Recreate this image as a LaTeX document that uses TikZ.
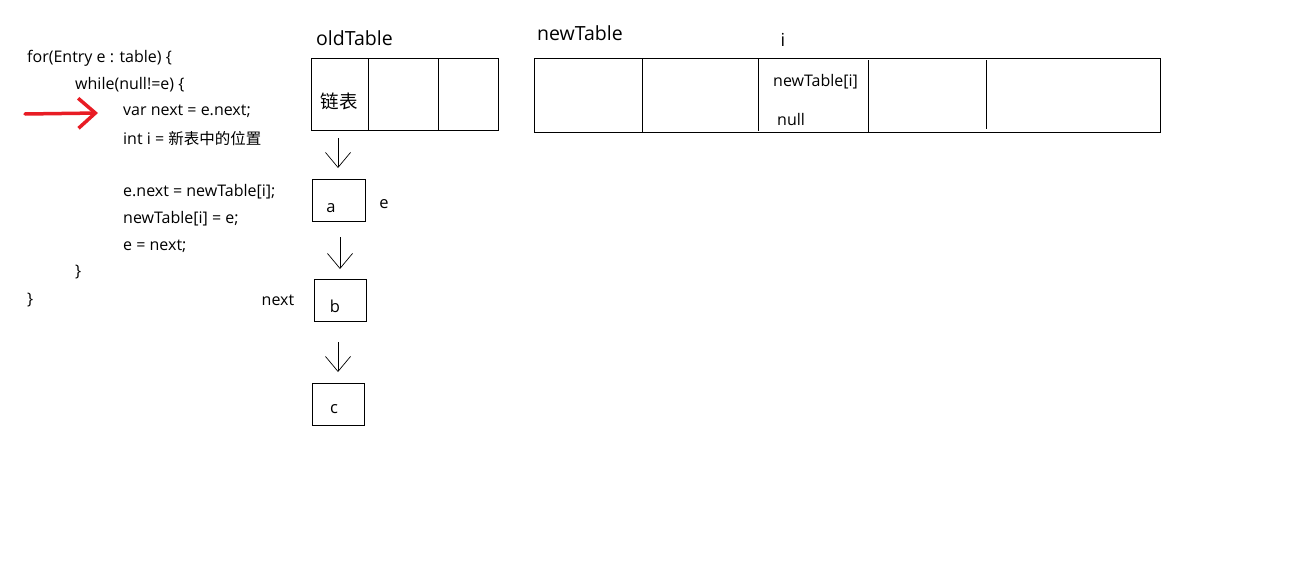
\documentclass[tikz,border=0pt]{standalone}
\usepackage{fontspec}
\setmainfont{Open Sans}
\newfontfamily\cjk{Noto Sans CJK SC}
\usetikzlibrary{arrows.meta}
\definecolor{penred}{RGB}{232,28,36}
\begin{document}
\begin{tikzpicture}[x=1pt,y=-1pt,
  code/.style={anchor=west,inner sep=0pt,font=\fontsize{16}{19}\selectfont},
  lbl/.style={anchor=west,inner sep=0pt,font=\fontsize{19.5}{23}\selectfont},
  small/.style={anchor=west,inner sep=0pt,font=\fontsize{16.5}{19}\selectfont},
  cell/.style={draw,line width=0.9pt,inner sep=0pt,anchor=north west},
  divider/.style={line width=0.9pt},
  link/.style={line width=0.7pt,-{Straight Barb[length=15pt,width=25pt,line width=0.7pt]}},
  redarrow/.style={line width=3.5pt,penred,line cap=round,-{Straight Barb[length=17pt,width=30pt,line width=3.5pt]}}
]
\useasboundingbox (0,0) rectangle (1294,560);
% code
\node[code] (l1) at (27,58) {for(Entry e : table) \{};
\node[code] (l2) at (75,85) {while(null!=e) \{};
\node[code] (l3) at (123,111) {var next = e.next;};
\node[code] (l4) at (123,139) {int i = {\cjk\fontsize{15.5}{19}\selectfont 新表中的位置}};
\node[code] (l5) at (123,192) {e.next = newTable[i];};
\node[code] (l6) at (123,219) {newTable[i] = e;};
\node[code] (l7) at (123,246) {e = next;};
\node[code] (l8) at (75,272) {\}};
\node[code] (l9) at (27,300) {\}};
% red arrow
\coordinate (rs) at (25,114);
\coordinate (re) at (98,113);
\draw[redarrow] (rs) -- (re);
% oldTable
\node[lbl] (oldlbl) at (316,38) {oldTable};
\node[cell,minimum width=187pt,minimum height=72pt] (old) at (311,58) {};
\draw[divider] (368,58) -- (368,130);
\draw[divider] (438,58) -- (438,131);
\node[inner sep=0pt,font=\cjk\fontsize{18.5}{22}\selectfont] (lianbiao) at (339,101) {链表};
% boxes
\node[cell,minimum width=53pt,minimum height=42pt] (a) at (312,179) {};
\node[small,anchor=center] (alab) at (331,208) {a};
\node[small,anchor=center] (elab) at (384,204) {e};
\node[cell,minimum width=52pt,minimum height=42pt] (b) at (314,279) {};
\node[small,anchor=center] (blab) at (335,306) {b};
\node[code,anchor=center] (nextlab) at (278,300) {next};
\node[cell,minimum width=52pt,minimum height=42pt] (c) at (312,383) {};
\node[small,anchor=center] (clab) at (334,409) {c};
% links
\coordinate (s1) at (338,138); \coordinate (e1) at (338,168);
\coordinate (s2) at (340,237); \coordinate (e2) at (340,269);
\coordinate (s3) at (338,342); \coordinate (e3) at (338,372);
\draw[link] (s1) -- (e1);
\draw[link] (s2) -- (e2);
\draw[link] (s3) -- (e3);
% newTable
\node[lbl] (newlbl) at (537,33) {newTable};
\node[small,anchor=center,font=\fontsize{18}{21}\selectfont] (ilab) at (783,40) {i};
\node[cell,minimum width=626pt,minimum height=74pt] (new) at (534,58) {};
\draw[divider] (642,58) -- (642,132);
\draw[divider] (758,59) -- (758,131);
\draw[divider] (868,60) -- (868,132);
\draw[divider] (986,60) -- (986,129);
\node[code] (nti) at (773,82) {newTable[i]};
\node[code] (null) at (777,119) {null};
\end{tikzpicture}
\end{document}
